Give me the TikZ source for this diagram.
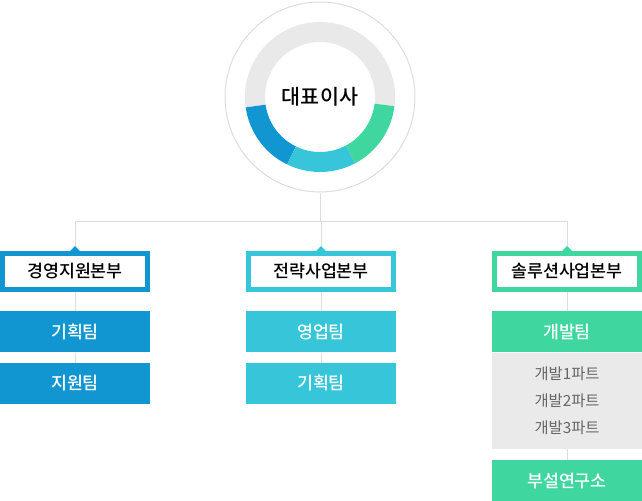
\documentclass[tikz,border=0pt]{standalone}
\usepackage{fontspec}
\setmainfont{Noto Sans CJK KR}
\newfontfamily\krmedium{Noto Sans CJK KR Medium}
\usetikzlibrary{positioning}
\definecolor{ringgray}{HTML}{E9E9E9}
\definecolor{divblue}{HTML}{1196D1}
\definecolor{divcyan}{HTML}{37C6D9}
\definecolor{divgreen}{HTML}{3FD69F}
\definecolor{linegray}{HTML}{DDDDDD}
\definecolor{partgray}{HTML}{EAEAEA}
\definecolor{parttext}{HTML}{666666}

\begin{document}
\begin{tikzpicture}[x=0.75pt, y=-0.75pt,
    division/.style={draw=#1, fill=white, line width=3.75pt, minimum width=108.75pt, minimum height=27pt, inner sep=0pt, font=\krmedium\fontsize{13}{15}\selectfont},
    team/.style={fill=#1, text=white, minimum width=112.5pt, minimum height=30.75pt, inner sep=0pt, font=\krmedium\fontsize{13}{15}\selectfont},
    partbox/.style={fill=partgray, text=parttext, minimum width=112.5pt, minimum height=72pt, inner sep=0pt, align=center, font=\fontsize{11.5}{20.25}\selectfont},
    link/.style={draw=linegray, line width=0.75pt},
    tip/.style={fill=#1}
]
    \useasboundingbox (0,0) rectangle (642,500);

    % CEO ring
    \node[circle, draw=linegray, fill=white, line width=0.75pt, minimum size=142.5pt, inner sep=0pt] (ceoring) at (320,97) {};
    \begin{scope}[shift={(ceoring.center)}, x=0.75pt, y=0.75pt]
        \foreach \a/\b/\c in {-7/188/ringgray, 188/244/divblue, 244/298/divcyan, 298/353/divgreen}
            \fill[\c] (\a:75) arc[start angle=\a, end angle=\b, radius=75] -- (\b:55) arc[start angle=\b, end angle=\a, radius=55] -- cycle;
    \end{scope}
    \node[font=\krmedium\fontsize{15.5}{18}\selectfont] (ceo) at (ceoring.center) {대표이사};

    % Divisions
    \node[division=divblue] (mgmt) at (75,271.5) {경영지원본부};
    \node[division=divcyan] (strat) at (321,271.5) {전략사업본부};
    \node[division=divgreen] (solut) at (567,271.5) {솔루션사업본부};

    % Teams
    \node[team=divblue, below=14.25pt of mgmt] (plan1) {기획팀};
    \node[team=divblue, below=7.5pt of plan1] (support) {지원팀};
    \node[team=divcyan, below=14.25pt of strat] (sales) {영업팀};
    \node[team=divcyan, below=7.5pt of sales] (plan2) {기획팀};
    \node[team=divgreen, below=14.25pt of solut] (dev) {개발팀};
    \node[partbox, below=0pt of dev] (devparts) {개발1파트\\개발2파트\\개발3파트};
    \node[team=divgreen, below=8.25pt of devparts] (lab) {부설연구소};

    % Connectors
    \coordinate (bus) at (ceoring.south |- 0,221);
    \draw[link] (ceoring.south) -- (bus);
    \draw[link] (mgmt.north |- bus) -- (solut.north |- bus);
    \foreach \d in {mgmt,strat,solut}
        \draw[link] (\d.north |- bus) -- (\d.north);
    \draw[link] (mgmt.south) -- (plan1.north);
    \draw[link] (plan1.south) -- (support.north);
    \draw[link] (strat.south) -- (sales.north);
    \draw[link] (sales.south) -- (plan2.north);
    \draw[link] (solut.south) -- (dev.north);
    \draw[link] (devparts.south) -- (lab.north);

    % Tips
    \fill[tip=divblue] (mgmt.north) ++(-6,1) -- ++(6,-6) -- ++(6,6) -- cycle;
    \fill[tip=divcyan] (strat.north) ++(-6,1) -- ++(6,-6) -- ++(6,6) -- cycle;
    \fill[tip=divgreen] (solut.north) ++(-6,1) -- ++(6,-6) -- ++(6,6) -- cycle;
\end{tikzpicture}
\end{document}
